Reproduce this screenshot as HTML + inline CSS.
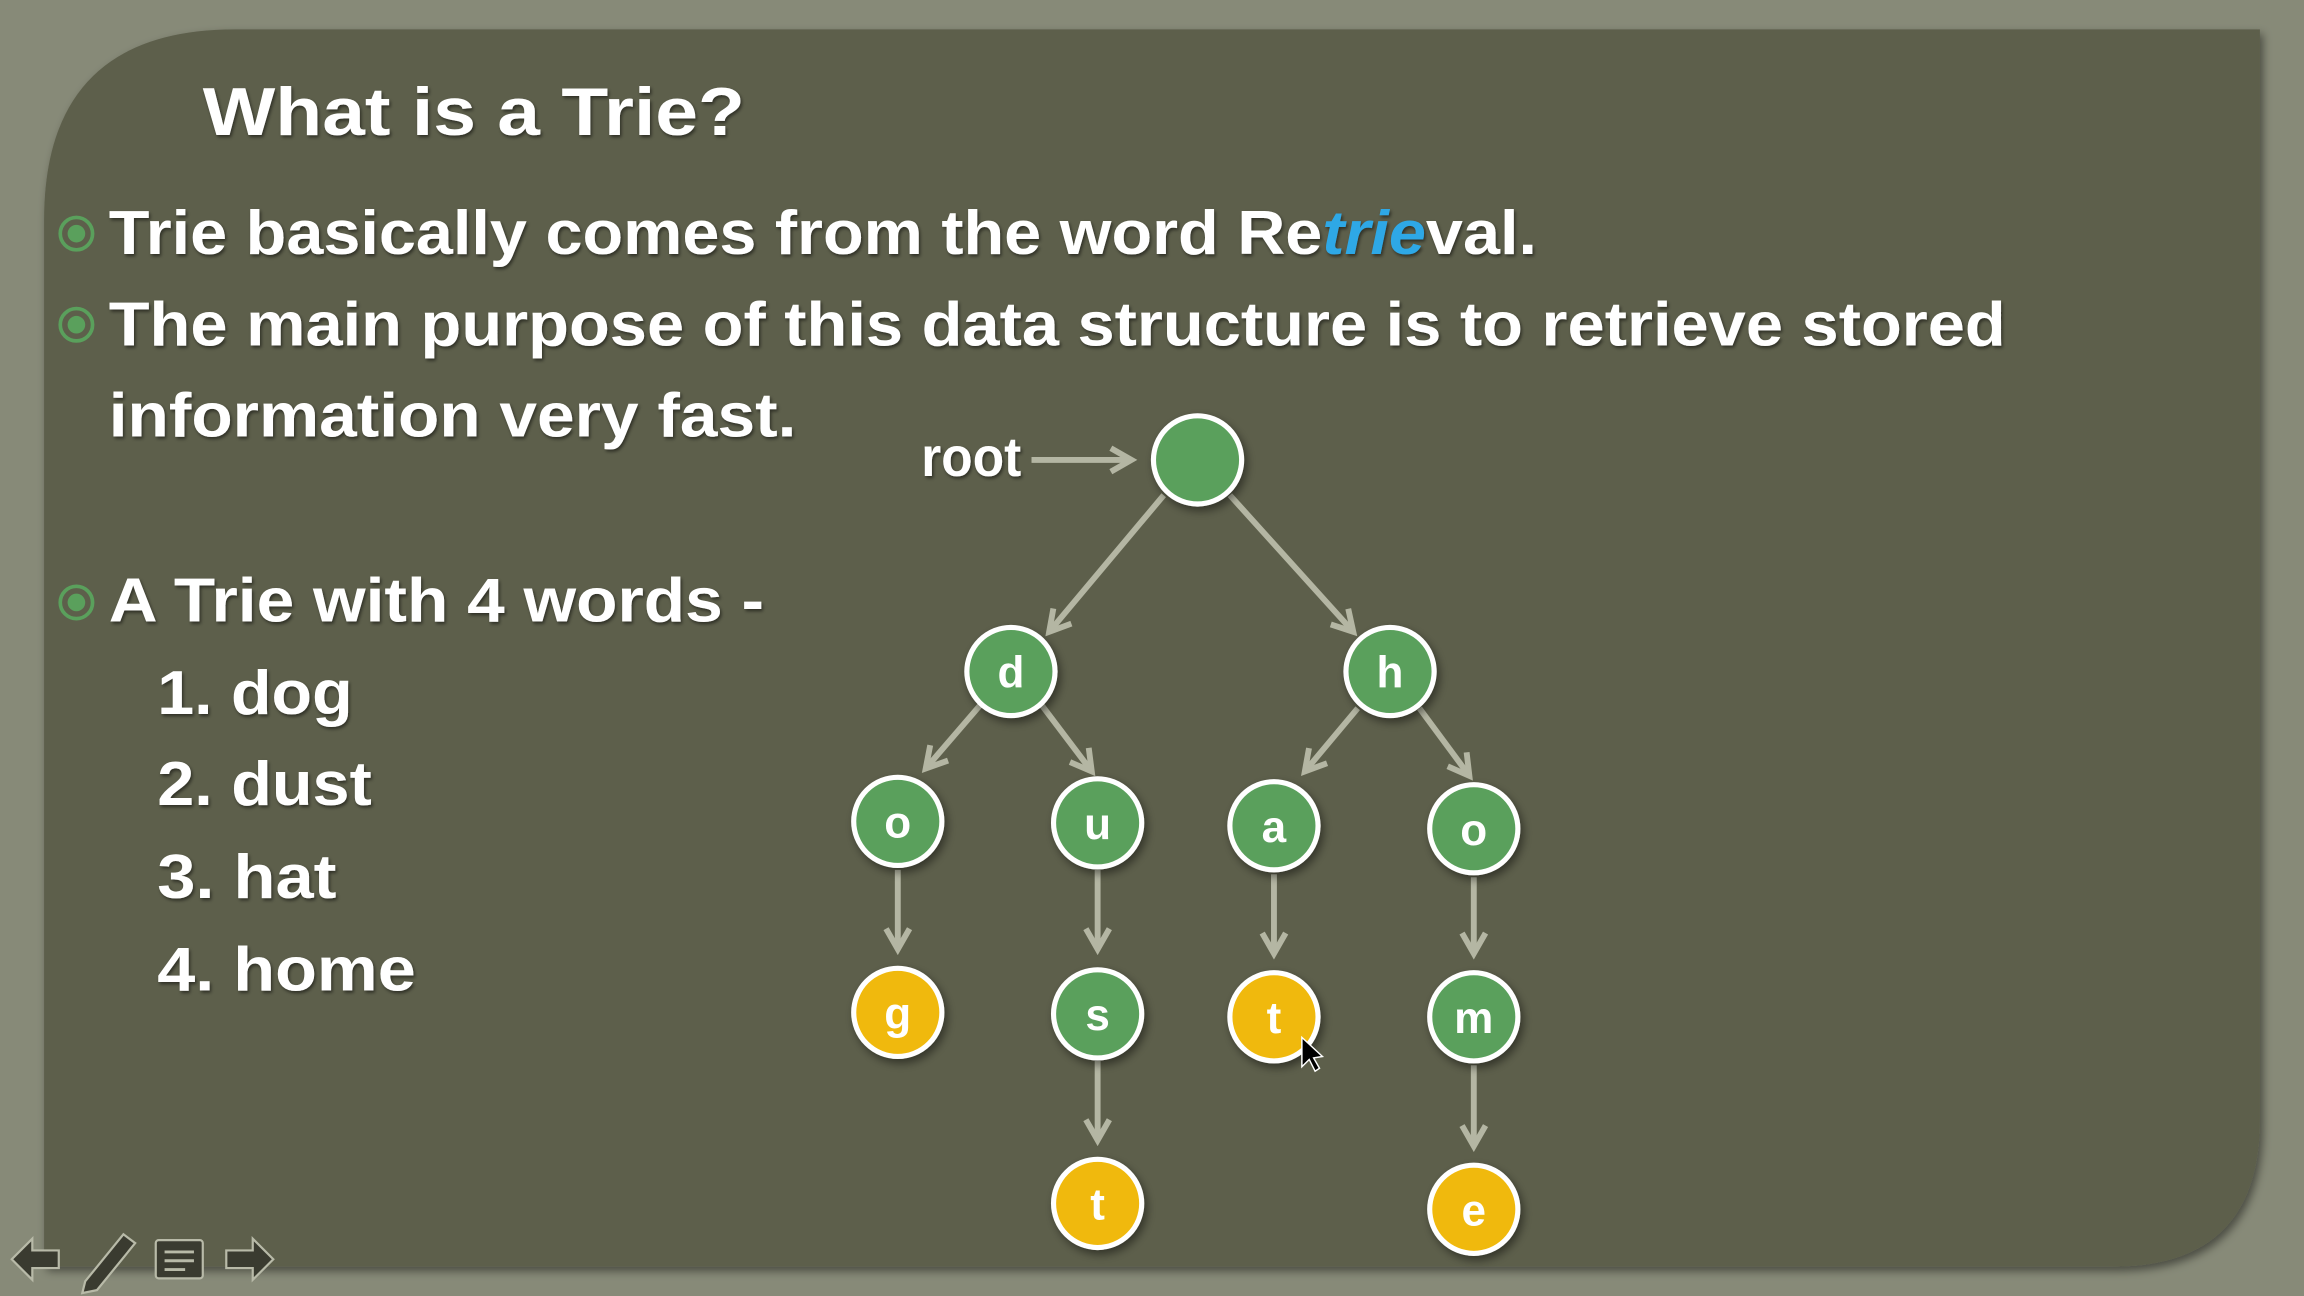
<!DOCTYPE html>
<html><head><meta charset="utf-8"><style>
html,body{margin:0;padding:0;background:#878a78;}
svg{display:block}
</style></head><body>
<svg width="2304" height="1296" viewBox="0 0 1568 882" preserveAspectRatio="none" xmlns="http://www.w3.org/2000/svg">
<defs>
<filter id="sh" x="-10%" y="-10%" width="120%" height="120%"><feDropShadow dx="2" dy="3" stdDeviation="3" flood-color="#000" flood-opacity="0.45"/></filter>
<filter id="ts"><feDropShadow dx="1" dy="1.5" stdDeviation="1" flood-color="#000" flood-opacity="0.5"/></filter>
<marker id="ah" viewBox="0 0 10 10" refX="8" refY="5" markerWidth="5" markerHeight="5" orient="auto"><path d="M1,1 L8,5 L1,9" fill="none" stroke="#b4b6a3" stroke-width="2"/></marker>
</defs>
<rect width="1568" height="882" fill="#878a78"/>
<path d="M160,20 L1538,20 L1538,762 Q1538,862 1438,862 L30,862 L30,150 Q30,20 160,20 Z" fill="#5d5f4c" filter="url(#sh)"/>
<g font-family="Liberation Sans, sans-serif" font-weight="bold" fill="#fff" filter="url(#ts)">
<text x="138" y="92" font-size="46" textLength="369" lengthAdjust="spacingAndGlyphs">What is a Trie?</text>
<text x="74" y="173" font-size="42" textLength="972" lengthAdjust="spacingAndGlyphs">Trie basically comes from the word Re<tspan fill="#2fa8e6" font-style="italic">trie</tspan>val.</text>
<text x="74" y="235" font-size="42" textLength="1291" lengthAdjust="spacingAndGlyphs">The main purpose of this data structure is to retrieve stored</text>
<text x="74" y="297" font-size="42" textLength="468" lengthAdjust="spacingAndGlyphs">information very fast.</text>
<text x="74" y="423" font-size="42" textLength="446" lengthAdjust="spacingAndGlyphs">A Trie with 4 words -</text>
<text x="107" y="486" font-size="42" textLength="133" lengthAdjust="spacingAndGlyphs">1. dog</text>
<text x="107" y="548" font-size="42" textLength="146" lengthAdjust="spacingAndGlyphs">2. dust</text>
<text x="107" y="611" font-size="42" textLength="122" lengthAdjust="spacingAndGlyphs">3. hat</text>
<text x="107" y="674" font-size="42" textLength="176" lengthAdjust="spacingAndGlyphs">4. home</text>
<text x="627" y="324" font-size="38" textLength="68" lengthAdjust="spacingAndGlyphs">root</text>
</g>
<g fill="none" stroke="#5aa05c">
<circle cx="52" cy="159" r="11" stroke-width="2.5"/><circle cx="52" cy="221" r="11" stroke-width="2.5"/><circle cx="52" cy="410" r="11" stroke-width="2.5"/>
</g>
<g fill="#5aa05c"><circle cx="52" cy="159" r="6"/><circle cx="52" cy="221" r="6"/><circle cx="52" cy="410" r="6"/></g>
<g stroke="#b4b6a3" stroke-width="4" marker-end="url(#ah)">
<line x1="702" y1="313" x2="770" y2="313"/>
<line x1="792" y1="337" x2="714" y2="430"/>
<line x1="837" y1="337" x2="921" y2="430"/>
<line x1="667" y1="480" x2="630" y2="523"/>
<line x1="709" y1="480" x2="743" y2="525"/>
<line x1="924" y1="482" x2="888" y2="525"/>
<line x1="966" y1="482" x2="1000" y2="528"/>
<line x1="611" y1="592" x2="611" y2="646"/>
<line x1="747" y1="592" x2="747" y2="646"/>
<line x1="867" y1="595" x2="867" y2="649"/>
<line x1="1003" y1="597" x2="1003" y2="649"/>
<line x1="747" y1="722" x2="747" y2="776"/>
<line x1="1003" y1="725" x2="1003" y2="780"/>
</g>
<g stroke="#fff" stroke-width="3.5" filter="url(#sh)">
<circle cx="815" cy="313" r="30" fill="#5aa05c"/>
<circle cx="688" cy="457" r="30" fill="#5aa05c"/>
<circle cx="946" cy="457" r="30" fill="#5aa05c"/>
<circle cx="611" cy="559" r="30" fill="#5aa05c"/>
<circle cx="747" cy="560" r="30" fill="#5aa05c"/>
<circle cx="867" cy="562" r="30" fill="#5aa05c"/>
<circle cx="1003" cy="564" r="30" fill="#5aa05c"/>
<circle cx="611" cy="689" r="30" fill="#f0b90b"/>
<circle cx="747" cy="690" r="30" fill="#5aa05c"/>
<circle cx="867" cy="692" r="30" fill="#f0b90b"/>
<circle cx="1003" cy="692" r="30" fill="#5aa05c"/>
<circle cx="747" cy="819" r="30" fill="#f0b90b"/>
<circle cx="1003" cy="823" r="30" fill="#f0b90b"/>
</g>
<g font-family="Liberation Sans, sans-serif" font-weight="bold" font-size="30" fill="#fff" text-anchor="middle">
<text x="688" y="468">d</text><text x="946" y="468">h</text>
<text x="611" y="570">o</text><text x="747" y="571">u</text><text x="867" y="573">a</text><text x="1003" y="575">o</text>
<text x="611" y="700">g</text><text x="747" y="701">s</text><text x="867" y="703">t</text><text x="1003" y="703">m</text>
<text x="747" y="830">t</text><text x="1003" y="834">e</text>
</g>
<path d="M886,706 L886,726 L891,721 L895,729 L898,727 L894,720 L900,719 Z" fill="#000" stroke="#fff" stroke-width="1"/>
<g fill="#3a3b30" stroke="#b8baa8" stroke-width="1.5">
<path d="M8,857 L22,843 L22,851 L40,851 L40,863 L22,863 L22,871 Z"/>
<path d="M58,872 L84,840 L92,846 L66,878 L56,880 Z"/>
<rect x="106" y="844" width="32" height="26" rx="2"/>
<path d="M186,857 L172,843 L172,851 L154,851 L154,863 L172,863 L172,871 Z"/>
</g>
<g stroke="#b8baa8" stroke-width="2"><line x1="112" y1="852" x2="132" y2="852"/><line x1="112" y1="858" x2="132" y2="858"/><line x1="112" y1="864" x2="126" y2="864"/></g>
</svg>
</body></html>
